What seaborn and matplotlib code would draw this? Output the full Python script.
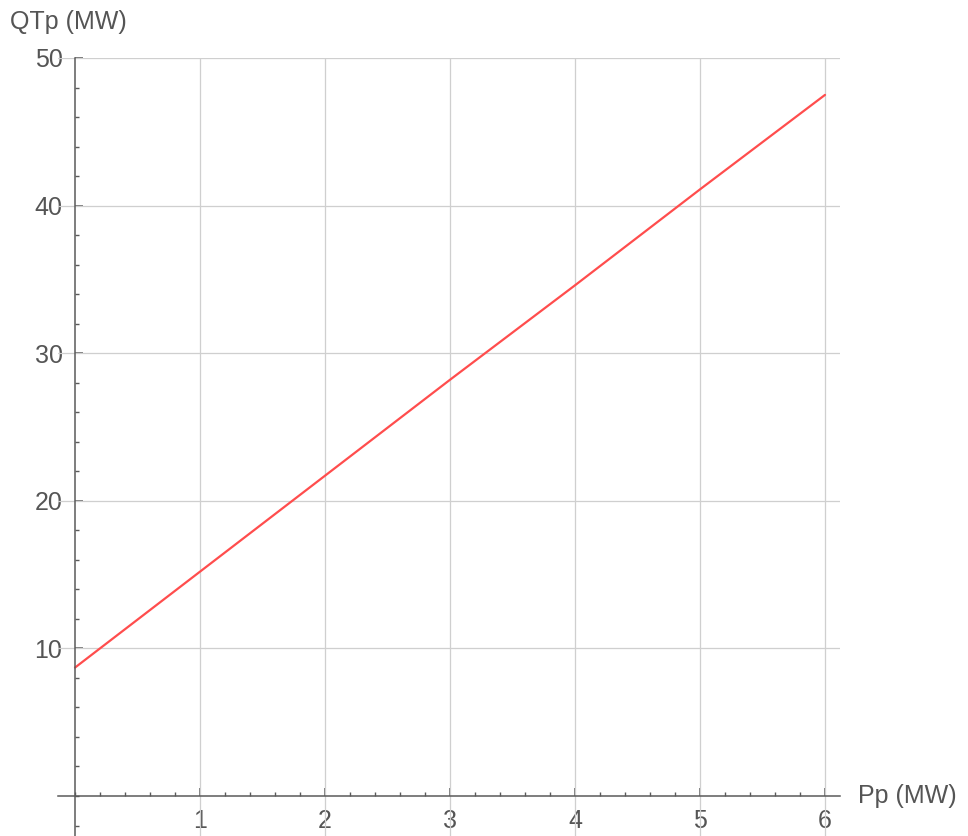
import numpy as np
import pandas as pd
import matplotlib
matplotlib.use('Agg')
import matplotlib.pyplot as plt
from matplotlib.ticker import MultipleLocator
import seaborn as sns

# values
pp_mw = [0, 1, 2, 3, 4, 5, 6]
qtp_mw = [8.7, 15.2, 21.7, 28.2, 34.6, 41.1, 47.5]
x_ticks = [1, 2, 3, 4, 5, 6]
y_ticks = [10, 20, 30, 40, 50]

df = pd.DataFrame({'Pp': pp_mw, 'QTp': qtp_mw})

sns.set_style('white')
plt.rcParams['font.family'] = ['Liberation Sans', 'DejaVu Sans']

axis_col = '#5a5a5a'
text_col = '#555555'
fs = 18

fig = plt.figure(figsize=(9.68, 8.36), dpi=100)
ax = fig.add_axes([58 / 968, 0, (840 - 58) / 968, (836 - 58) / 836])

sns.lineplot(data=df, x='Pp', y='QTp', color='#ff4d4d', linewidth=1.6, ax=ax, zorder=3)

ax.set_xlim(-0.136, 6.12)
ax.set_ylim(-2.71, 50)

# gridlines at major ticks
for xv in x_ticks:
    ax.axvline(xv, color='#cfcfcf', lw=0.9, zorder=1)
for yv in y_ticks:
    ax.axhline(yv, color='#cfcfcf', lw=0.9, zorder=1)

# mathematica-like axes crossing at the origin
ax.spines['left'].set_position(('data', 0))
ax.spines['bottom'].set_position(('data', 0))
ax.spines['top'].set_visible(False)
ax.spines['right'].set_visible(False)
for s in ['left', 'bottom']:
    ax.spines[s].set_color(axis_col)
    ax.spines[s].set_linewidth(1.1)
    ax.spines[s].set_zorder(4)

ax.set_xticks(x_ticks)
ax.set_yticks(y_ticks)
ax.xaxis.set_minor_locator(MultipleLocator(0.2))
ax.yaxis.set_minor_locator(MultipleLocator(2))
ax.tick_params(which='both', bottom=True, left=True, top=False, right=False)
ax.tick_params(which='major', direction='in', length=5.5, width=1.1, color=axis_col,
               labelsize=fs, labelcolor=text_col)
ax.tick_params(which='minor', direction='in', length=3, width=1.0, color=axis_col)
ax.tick_params(axis='x', which='major', pad=9)
ax.tick_params(axis='y', which='major', pad=9)
ax.set_xlabel('')
ax.set_ylabel('')

fig.text(10 / 968, 1 - 22 / 836, 'QTp (MW)', ha='left', va='center', fontsize=fs, color=text_col)
fig.text(858 / 968, 1 - 796 / 836, 'Pp (MW)', ha='left', va='center', fontsize=fs, color=text_col)

fig.savefig('out.png', dpi=100)
